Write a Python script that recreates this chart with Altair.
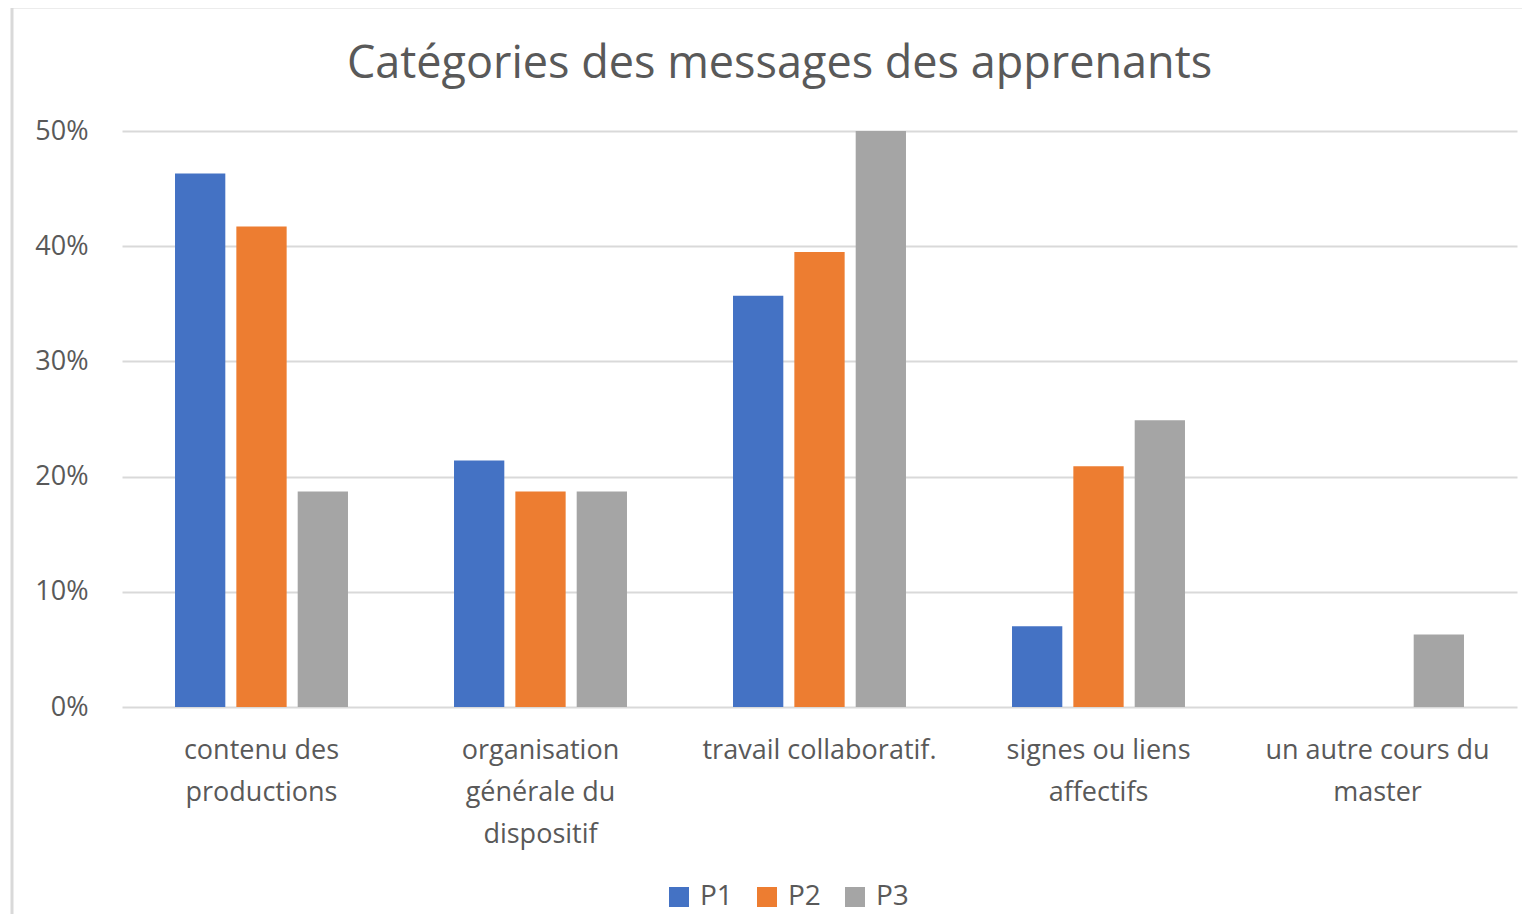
import altair as alt
import pandas as pd

categories = [
    "contenu des\nproductions",
    "organisation\ngénérale du\ndispositif",
    "travail collaboratif.",
    "signes ou  liens\naffectifs",
    "un autre cours du\nmaster",
]
series = ["P1", "P2", "P3"]
p1 = [0.463, 0.214, 0.357, 0.070, 0.0]
p2 = [0.417, 0.187, 0.395, 0.209, 0.0]
p3 = [0.187, 0.187, 0.500, 0.249, 0.063]
colors = ["#4472C4", "#ED7D31", "#A5A5A5"]
title_text = "Catégories des messages des apprenants"

rows = []
for name, vals in zip(series, [p1, p2, p3]):
    for c, v in zip(categories, vals):
        rows.append({"cat": c, "serie": name, "val": v})
df = pd.DataFrame(rows)

FONT = "Open Sans"
TXT = "#595959"

bars = alt.Chart(df).mark_bar().encode(
    x=alt.X("cat:N", sort=categories, title=None,
            scale=alt.Scale(paddingInner=0.38, paddingOuter=0.19),
            axis=alt.Axis(labelAngle=0, labelExpr="split(datum.label, '\\n')",
                          labelFontSize=27, labelColor=TXT, labelFont=FONT,
                          labelLineHeight=42, labelPadding=30, ticks=False,
                          labelLimit=0, domain=False, grid=False)),
    xOffset=alt.XOffset("serie:N", sort=series,
                        scale=alt.Scale(paddingInner=0.18, paddingOuter=0)),
    y=alt.Y("val:Q", title=None,
            scale=alt.Scale(domain=[0, 0.5]),
            axis=alt.Axis(format="%", values=[0, 0.1, 0.2, 0.3, 0.4, 0.5],
                          labelFontSize=27, labelColor=TXT, labelFont=FONT,
                          labelPadding=34, ticks=False, domain=False,
                          gridColor="#d9d9d9", gridWidth=2)),
    color=alt.Color("serie:N", sort=series,
                    scale=alt.Scale(domain=series, range=colors),
                    legend=alt.Legend(title=None, orient="none", direction="horizontal",
                                      legendX=543, legendY=752,
                                      symbolType="square", symbolSize=400,
                                      symbolStrokeWidth=0,
                                      labelFontSize=28, labelColor=TXT, labelFont=FONT,
                                      labelOffset=7, columnPadding=20)),
)

border = alt.Chart(pd.DataFrame({"a": [0]})).mark_rect(
    fillOpacity=0, stroke="#d9d9d9", strokeWidth=3
).encode(
    x=alt.value(-110), x2=alt.value(1500), y=alt.value(-124), y2=alt.value(900)
)

title = alt.Chart(pd.DataFrame({"t": [title_text]})).mark_text(
    font=FONT, fontSize=45, color=TXT, align="center", baseline="alphabetic"
).encode(
    text="t:N", x=alt.value(657.5), y=alt.value(-53)
)

chart = alt.layer(border, bars, title).properties(
    width=1395, height=576,
    autosize=alt.AutoSizeParams(type="none"),
    padding={"left": 114, "top": 123, "right": 5, "bottom": 207},
).configure(background="white", view=alt.ViewConfig(stroke=None))

chart.save("out.html", embed_options={"renderer": "svg", "actions": False})
